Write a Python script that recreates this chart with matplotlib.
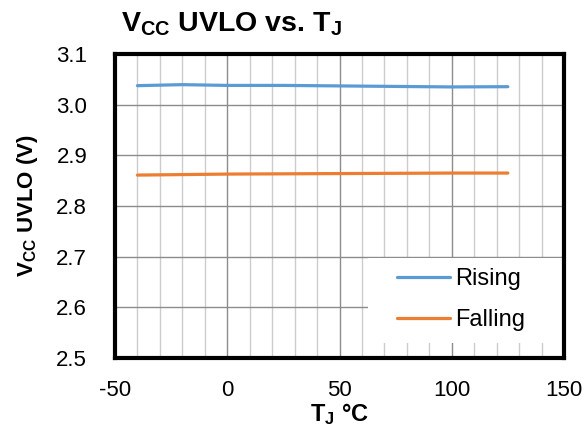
import matplotlib
matplotlib.use("Agg")
import matplotlib.pyplot as plt
from matplotlib.ticker import MultipleLocator
from matplotlib.patches import Rectangle

plt.rcParams['font.family'] = ['Liberation Sans', 'DejaVu Sans']
plt.rcParams['mathtext.fontset'] = 'custom'
plt.rcParams['mathtext.rm'] = 'Liberation Sans'
plt.rcParams['mathtext.bf'] = 'Liberation Sans:bold'
plt.rcParams['mathtext.it'] = 'Liberation Sans:italic'
plt.rcParams['axes.unicode_minus'] = False

temps = [-40, -20, 0, 25, 50, 75, 100, 125]
rising = [3.0375, 3.0395, 3.038, 3.038, 3.037, 3.036, 3.035, 3.0355]
falling = [2.861, 2.862, 2.863, 2.8635, 2.864, 2.8645, 2.865, 2.865]
yticks = [2.5, 2.6, 2.7, 2.8, 2.9, 3.0, 3.1]
ytick_labels = ['2.5', '2.6', '2.7', '2.8', '2.9', '3.0', '3.1']

W, H = 586, 428
fig = plt.figure(figsize=(W/100, H/100), dpi=100)
L, R, T, B = 115, 564, 54, 358
ax = fig.add_axes([L/W, 1-B/H, (R-L)/W, (B-T)/H])

ax.plot(temps, rising, color='#5B9BD5', lw=2.3, label='Rising', solid_capstyle='round', zorder=3)
ax.plot(temps, falling, color='#ED7D31', lw=2.3, label='Falling', solid_capstyle='round', zorder=3)

ax.set_xlim(-50, 150)
ax.set_ylim(2.5, 3.1)
ax.xaxis.set_major_locator(MultipleLocator(50))
ax.xaxis.set_minor_locator(MultipleLocator(10))
ax.set_yticks(yticks)
ax.set_yticklabels(ytick_labels)
ax.grid(True, which='minor', axis='x', color='#cccccc', lw=1.0)
ax.grid(True, which='major', axis='x', color='#8c8c8c', lw=1.0)
ax.grid(True, which='major', axis='y', color='#8c8c8c', lw=1.0)
ax.set_axisbelow(True)
ax.tick_params(which='both', length=0, labelsize=16)
ax.tick_params(axis='y', pad=20)
ax.tick_params(axis='x', pad=16)
for s in ax.spines.values():
    s.set_linewidth(3)
    s.set_color('black')
    s.set_zorder(5)

# legend background (white box covering grid)
x0 = (368-L)/(R-L); y0 = (B-343)/(B-T)
x1 = 1.0; y1 = (B-258)/(B-T)
ax.add_patch(Rectangle((x0, y0), x1-x0, y1-y0, transform=ax.transAxes,
                       facecolor='white', edgecolor='none', zorder=2))

fig.text(121/W, 1-32/H, r'$\mathbf{V_{CC}}$ UVLO vs. $\mathbf{T_J}$', fontsize=20.5,
         fontweight='bold', ha='left', va='baseline')
ax.set_ylabel(r'$\mathbf{V_{CC}}$ UVLO (V)', fontsize=16, fontweight='bold', labelpad=12)
ax.set_xlabel(r'$\mathbf{T_J}$ °C', fontsize=17, fontweight='bold', labelpad=0)

leg = ax.legend(loc='center left', bbox_to_anchor=((397-L)/(R-L), (B-299.5)/(B-T)),
                fontsize=17, frameon=False, handlelength=2.25, labelspacing=0.8,
                handletextpad=0.2, borderaxespad=0, borderpad=0)
leg.set_zorder(4)

fig.savefig('out.png', dpi=100)
